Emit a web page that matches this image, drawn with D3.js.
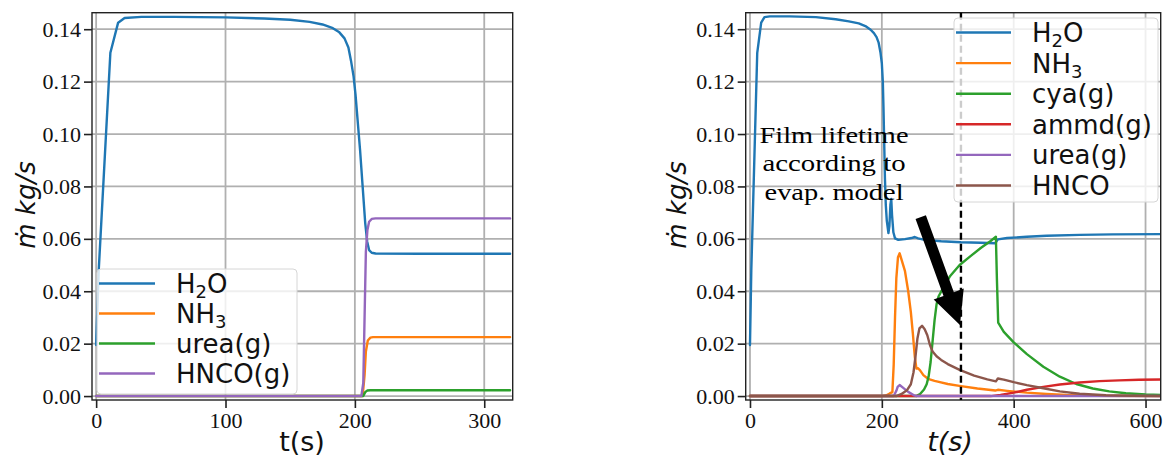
<!DOCTYPE html>
<html>
<head>
<meta charset="utf-8">
<script src="https://cdn.jsdelivr.net/npm/d3@7"></script>
<style>
  html, body { margin: 0; padding: 0; background: #fff; }
  svg { display: block; }
</style>
</head>
<body>
<svg id="chart" width="1166" height="457"></svg>
<script>
// ---------------- DATA ----------------
// Left panel
const leftXTicks = [0, 100, 200, 300];
const yTicks = [0.00, 0.02, 0.04, 0.06, 0.08, 0.10, 0.12, 0.14];
const yTickLabels = ["0.00", "0.02", "0.04", "0.06", "0.08", "0.10", "0.12", "0.14"];

const leftH2O = [[0,0.0195],[2,0.048],[11,0.131],[17,0.1425],[22,0.1443],[35,0.1447],[60,0.1447],[100,0.1445],[130,0.1441],[150,0.1436],[165,0.1428],[175,0.1418],[183,0.1404],[188,0.1388],[192,0.1365],[195,0.133],[197,0.128],[199,0.122],[200.5,0.115],[202,0.106],[204,0.094],[206,0.08],[208,0.066],[209.5,0.059],[211,0.0557],[213,0.0547],[216,0.0544],[250,0.0543],[320,0.0543]];
const leftNH3 = [[0,0],[206,0],[207.5,0.008],[208.5,0.017],[210,0.0212],[212,0.0223],[214,0.0225],[320,0.0225]];
const leftUrea = [[0,0],[206.5,0],[208,0.0015],[209.5,0.0021],[212,0.0022],[320,0.0022]];
const leftHNCO = [[0,0],[205,0],[206.5,0.005],[207.5,0.03],[208.5,0.055],[209.7,0.0634],[211,0.0665],[213,0.0676],[216,0.0678],[320,0.0678]];

// Right panel
const rightXTicks = [0, 200, 400, 600];
const rightH2O = [[0,0.0195],[2,0.048],[11,0.131],[17,0.1425],[22,0.1446],[30,0.1449],[60,0.1449],[100,0.1446],[130,0.1438],[150,0.143],[165,0.1422],[175,0.1412],[183,0.1398],[188,0.1385],[192,0.137],[195,0.135],[198,0.131],[200,0.127],[201.5,0.12],[202.5,0.11],[203.5,0.098],[204.7,0.083],[206,0.073],[207.5,0.067],[210,0.0622],[211.5,0.065],[213,0.073],[214.3,0.0752],[215.5,0.069],[217.5,0.0625],[220,0.0602],[225,0.0596],[235,0.0599],[245,0.0603],[250,0.0607],[255,0.0602],[265,0.0596],[290,0.0591],[320,0.0587],[350,0.0585],[372,0.0583],[376,0.0598],[390,0.0603],[420,0.0608],[450,0.0612],[500,0.0615],[550,0.0617],[625,0.0618]];
const rightNH3 = [[0,0],[200,0],[207,0.0003],[212,0.001],[216,0.0015],[218,0.012],[220,0.03],[222,0.045],[224.5,0.053],[227,0.0545],[230,0.052],[235,0.0478],[240,0.04],[244,0.032],[247,0.024],[250,0.015],[252.5,0.0105],[255,0.0106],[258,0.0098],[263,0.008],[270,0.0066],[280,0.0058],[288,0.0053],[300,0.0046],[320,0.0038],[345,0.0029],[372,0.0021],[376,0.0024],[390,0.002],[420,0.0013],[450,0.0008],[480,0.0004],[520,0.0001],[625,0]];
const rightCya = [[0,0],[252,0],[258,0.0008],[264,0.0025],[268,0.0045],[271,0.0075],[274,0.013],[277,0.021],[280,0.029],[283,0.035],[286,0.038],[292,0.0408],[303,0.0456],[318,0.05],[335,0.0535],[350,0.0565],[365,0.0592],[373,0.0608],[374.5,0.045],[376.5,0.028],[385,0.0245],[400,0.0205],[420,0.016],[445,0.0112],[470,0.0074],[495,0.0046],[520,0.0029],[545,0.0018],[570,0.0011],[600,0.0006],[625,0.0004]];
const rightAmmd = [[0,0],[365,0],[380,0.0004],[400,0.0013],[420,0.0024],[445,0.0035],[470,0.0044],[500,0.0052],[530,0.0057],[560,0.006],[590,0.0062],[625,0.0063]];
const rightUrea = [[0,0],[218,0],[222,0.002],[224,0.0035],[227,0.0042],[232,0.0032],[240,0.0016],[248,0.0004],[253,0],[625,0]];
const rightHNCO = [[0,0],[222,0],[230,0.0008],[238,0.0022],[244,0.0045],[248,0.009],[251,0.015],[254,0.022],[257,0.0258],[261,0.0268],[265,0.0255],[269,0.0232],[273,0.0195],[277,0.017],[283,0.0152],[290,0.0138],[300,0.0122],[318,0.01],[340,0.0078],[360,0.0064],[373,0.0056],[376,0.0067],[385,0.0063],[400,0.0053],[420,0.0042],[445,0.003],[470,0.0018],[500,0.0009],[540,0.0003],[580,0.0001],[625,0]];

const filmLifetime = 320;
const annotationLines = ["Film lifetime", "according to", "evap. model"];
const annotationAnchor = [127.5, 0.0966];   // data coords of first line baseline centre
const arrowTail = [259, 0.0683];
const arrowTip = [318.5, 0.0271];

const leftLabels = [["H","2","O"], ["NH","3",""], ["urea(g)"], ["HNCO(g)"]];
const rightLabels = [["H","2","O"], ["NH","3",""], ["cya(g)"], ["ammd(g)"], ["urea(g)"], ["HNCO"]];

const C = { blue: "#1f77b4", orange: "#ff7f0e", green: "#2ca02c", red: "#d62728", purple: "#9467bd", brown: "#8c564b" };

// ---------------- DRAW ----------------
const svg = d3.select("#chart");
const TICKFONT = "'Liberation Serif', 'Times New Roman', serif";
const SANS = "'DejaVu Sans', sans-serif";

function panel(opts) {
  const { x0, x1, y0, y1, xDomain, xTicks, series, id } = opts;
  const x = d3.scaleLinear().domain(xDomain).range([x0, x1]);
  const y = d3.scaleLinear().domain([-0.0015, 0.1463]).range([y1, y0]);
  const g = svg.append("g");

  g.append("clipPath").attr("id", id).append("rect")
    .attr("x", x0).attr("y", y0).attr("width", x1 - x0).attr("height", y1 - y0);

  // grid
  g.append("g").selectAll("line").data(xTicks).join("line")
    .attr("x1", d => x(d)).attr("x2", d => x(d)).attr("y1", y0).attr("y2", y1)
    .attr("stroke", "#b0b0b0").attr("stroke-width", 1.8);
  g.append("g").selectAll("line").data(yTicks).join("line")
    .attr("x1", x0).attr("x2", x1).attr("y1", d => y(d)).attr("y2", d => y(d))
    .attr("stroke", "#b0b0b0").attr("stroke-width", 1.8);

  // axes
  const xAxis = d3.axisBottom(x).tickValues(xTicks).tickSize(8).tickPadding(5).tickFormat(d3.format("d"));
  const gx = g.append("g").attr("transform", `translate(0,${y1})`).call(xAxis);
  const yAxis = d3.axisLeft(y).tickValues(yTicks).tickSize(8).tickPadding(3).tickFormat((d, i) => yTickLabels[i]);
  const gy = g.append("g").attr("transform", `translate(${x0},0)`).call(yAxis);
  [gx, gy].forEach(a => {
    a.select(".domain").remove();
    a.selectAll(".tick line").attr("stroke", "#222").attr("stroke-width", 1.6);
    a.selectAll(".tick text").attr("font-family", TICKFONT).attr("font-size", 22).attr("fill", "#111");
  });
  gx.selectAll(".tick text").attr("dy", "0.66em");

  // lines
  const line = d3.line().x(d => x(d[0])).y(d => y(d[1]));
  const lg = g.append("g").attr("clip-path", `url(#${id})`);
  series.forEach(s => {
    lg.append("path").datum(s.data).attr("d", line)
      .attr("fill", "none").attr("stroke", s.color).attr("stroke-width", 2.4)
      .attr("stroke-linejoin", "round").attr("stroke-linecap", "round");
  });

  // spines
  g.append("rect").attr("x", x0).attr("y", y0).attr("width", x1 - x0).attr("height", y1 - y0)
    .attr("fill", "none").attr("stroke", "#222").attr("stroke-width", 1.4);

  return { x, y, g, lg };
}

function legend(g, bx, by, bw, bh, rowY0, rowStep, hx0, hx1, tx, labels, colors) {
  g.append("rect").attr("x", bx).attr("y", by).attr("width", bw).attr("height", bh)
    .attr("rx", 4).attr("fill", "#fff").attr("fill-opacity", 0.8)
    .attr("stroke", "#d6d6d6").attr("stroke-width", 1);
  labels.forEach((lab, i) => {
    const yy = rowY0 + i * rowStep;
    g.append("line").attr("x1", hx0).attr("x2", hx1).attr("y1", yy).attr("y2", yy)
      .attr("stroke", colors[i]).attr("stroke-width", 2.4);
    const t = g.append("text").attr("x", tx).attr("y", yy + 9.5)
      .attr("font-family", SANS).attr("font-size", 26).attr("fill", "#111");
    if (lab.length === 1) {
      t.text(lab[0]);
    } else {
      t.append("tspan").text(lab[0]);
      t.append("tspan").attr("dy", 5).attr("font-size", 18).text(lab[1]);
      if (lab[2]) t.append("tspan").attr("dy", -5).text(lab[2]);
    }
  });
}

// Left panel
const L = panel({
  id: "clipL", x0: 92, x1: 512.7, y0: 12.7, y1: 400, xDomain: [-3.2, 322], xTicks: leftXTicks,
  series: [
    { data: leftH2O, color: C.blue },
    { data: leftNH3, color: C.orange },
    { data: leftUrea, color: C.green },
    { data: leftHNCO, color: C.purple }
  ]
});
legend(L.g, 97, 269, 200, 125, 283.5, 30, 99, 155, 176, leftLabels, [C.blue, C.orange, C.green, C.purple]);
L.g.append("text").attr("x", 302).attr("y", 451).attr("text-anchor", "middle")
  .attr("font-family", SANS).attr("font-size", 27).attr("fill", "#111").text("t(s)");
L.g.append("text").attr("transform", "translate(35,205) rotate(-90)").attr("text-anchor", "middle")
  .attr("font-family", SANS).attr("font-style", "italic").attr("font-size", 26).attr("fill", "#111").text("ṁ kg/s");

// Right panel
const R = panel({
  id: "clipR", x0: 745.7, x1: 1160.7, y0: 12.7, y1: 400, xDomain: [-6.5, 623], xTicks: rightXTicks,
  series: [
    { data: rightH2O, color: C.blue },
    { data: rightNH3, color: C.orange },
    { data: rightCya, color: C.green },
    { data: rightAmmd, color: C.red },
    { data: rightUrea, color: C.purple },
    { data: rightHNCO, color: C.brown }
  ]
});
// dashed film lifetime line
R.g.append("line").attr("x1", R.x(filmLifetime)).attr("x2", R.x(filmLifetime))
  .attr("y1", 12.7).attr("y2", 400).attr("stroke", "#000").attr("stroke-width", 2.4)
  .attr("stroke-dasharray", "7,4");

legend(R.g, 954, 18, 204, 184, 32.5, 30.6, 956, 1011, 1032, rightLabels,
  [C.blue, C.orange, C.green, C.red, C.purple, C.brown]);

// annotation text
const ax = R.x(annotationAnchor[0]), ay = R.y(annotationAnchor[1]);
const widths = [149, 143, 139];
annotationLines.forEach((s, i) => {
  R.g.append("text").attr("x", ax).attr("y", ay + i * 28.5).attr("text-anchor", "middle")
    .attr("font-family", TICKFONT).attr("font-size", 23).attr("fill", "#000")
    .attr("textLength", widths[i]).attr("lengthAdjust", "spacingAndGlyphs").text(s);
});

// arrow
(function () {
  const tx0 = R.x(arrowTail[0]), ty0 = R.y(arrowTail[1]);
  const tx1 = R.x(arrowTip[0]), ty1 = R.y(arrowTip[1]);
  const dx = tx1 - tx0, dy = ty1 - ty0, len = Math.hypot(dx, dy);
  const ux = dx / len, uy = dy / len, px = -uy, py = ux;
  const shaftW = 5.5, headW = 16, headL = 33;
  const bx = tx1 - ux * headL, by = ty1 - uy * headL;
  const pts = [
    [tx0 + px * shaftW, ty0 + py * shaftW],
    [bx + px * shaftW, by + py * shaftW],
    [bx + px * headW, by + py * headW],
    [tx1, ty1],
    [bx - px * headW, by - py * headW],
    [bx - px * shaftW, by - py * shaftW],
    [tx0 - px * shaftW, ty0 - py * shaftW]
  ];
  R.g.append("polygon").attr("points", pts.map(p => p.join(",")).join(" ")).attr("fill", "#000");
})();

R.g.append("text").attr("x", 950).attr("y", 451).attr("text-anchor", "middle")
  .attr("font-family", SANS).attr("font-style", "italic").attr("font-size", 27).attr("fill", "#111").text("t(s)");
R.g.append("text").attr("transform", "translate(686,205) rotate(-90)").attr("text-anchor", "middle")
  .attr("font-family", SANS).attr("font-style", "italic").attr("font-size", 26).attr("fill", "#111").text("ṁ kg/s");
</script>
</body>
</html>
